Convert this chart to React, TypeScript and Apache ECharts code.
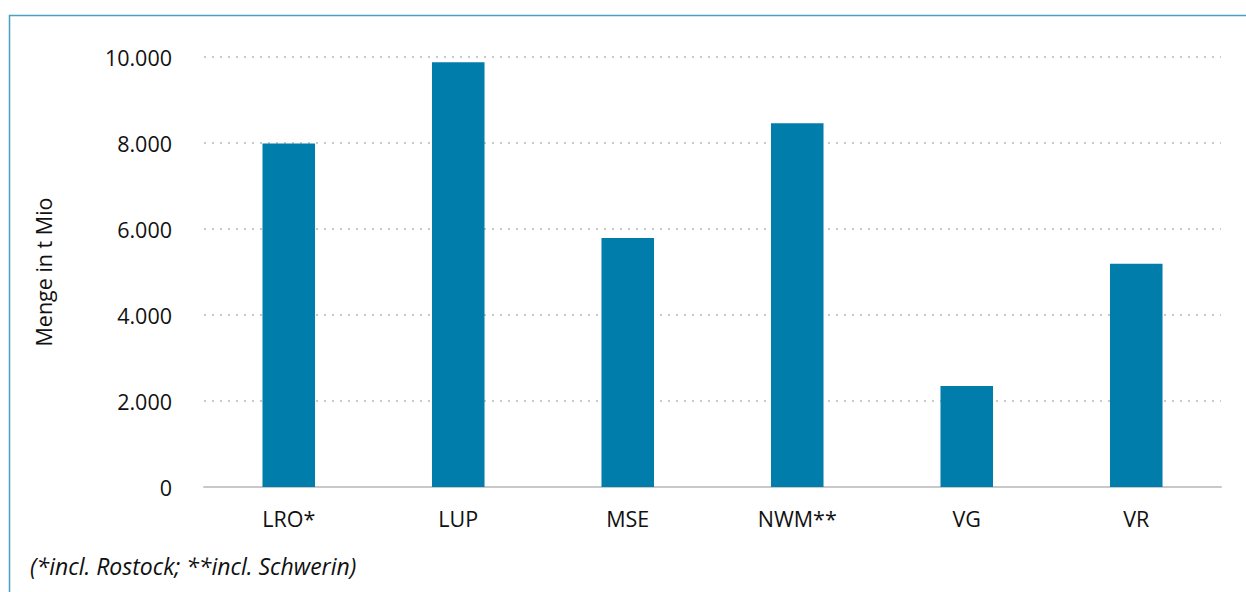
import React, { useEffect, useRef } from "react";
import * as echarts from "echarts";

// Regions and their quantities (t Mio)
const categories = ["LRO*", "LUP", "MSE", "NWM**", "VG", "VR"];
const values = [7990, 9880, 5790, 8460, 2350, 5190];
const yTicks = { min: 0, max: 10000, interval: 2000 };
const yAxisTitle = "Menge in t Mio";
const footnote = "(*incl. Rostock; **incl. Schwerin)";

const FONT = "'Open Sans', 'Noto Sans', sans-serif";
const BAR_COLOR = "#007dab";
const FRAME_COLOR = "#4aa0c2";

const formatThousands = (v: number) =>
  String(v).replace(/\B(?=(\d{3})+(?!\d))/g, ".");

export default function App() {
  const ref = useRef<HTMLDivElement>(null);

  useEffect(() => {
    if (!ref.current) return;
    const chart = echarts.init(ref.current, null, { renderer: "svg" });
    chart.setOption({
      animation: false,
      backgroundColor: "#ffffff",
      grid: { left: 204, right: 25, top: 57, bottom: 105, containLabel: false },
      xAxis: {
        type: "category",
        data: categories,
        axisLine: { show: true, lineStyle: { color: "#c8c8c8", width: 2 } },
        axisTick: { show: false },
        axisLabel: {
          color: "#111",
          fontFamily: FONT,
          fontSize: 21.5,
          margin: 20,
        },
      },
      yAxis: {
        type: "value",
        min: yTicks.min,
        max: yTicks.max,
        interval: yTicks.interval,
        name: yAxisTitle,
        nameLocation: "middle",
        nameGap: 150,
        nameRotate: 90,
        nameTextStyle: { color: "#111", fontFamily: FONT, fontSize: 21.5 },
        axisLine: { show: false },
        axisTick: { show: false },
        axisLabel: {
          color: "#111",
          fontFamily: FONT,
          fontSize: 21.5,
          margin: 32,
          formatter: (v: number) => formatThousands(v),
        },
        splitLine: {
          show: true,
          lineStyle: { color: "#c8c8c8", width: 2, type: [2, 6] },
        },
      },
      series: [
        {
          type: "bar",
          data: values,
          barWidth: "31%",
          itemStyle: { color: BAR_COLOR },
        },
      ],
      graphic: [
        {
          type: "rect",
          shape: { x: 9.5, y: 15.5, width: 1400, height: 800 },
          style: { fill: "none", stroke: FRAME_COLOR, lineWidth: 1.5 },
          silent: true,
        },
        {
          type: "text",
          left: 30,
          top: 554,
          style: {
            text: footnote,
            fill: "#111",
            font: `italic 23px ${FONT}`,
          },
        },
      ],
    });
    return () => chart.dispose();
  }, []);

  return (
    <div
      ref={ref}
      style={{ position: "fixed", left: 0, top: 0, width: 1246, height: 592 }}
    />
  );
}
